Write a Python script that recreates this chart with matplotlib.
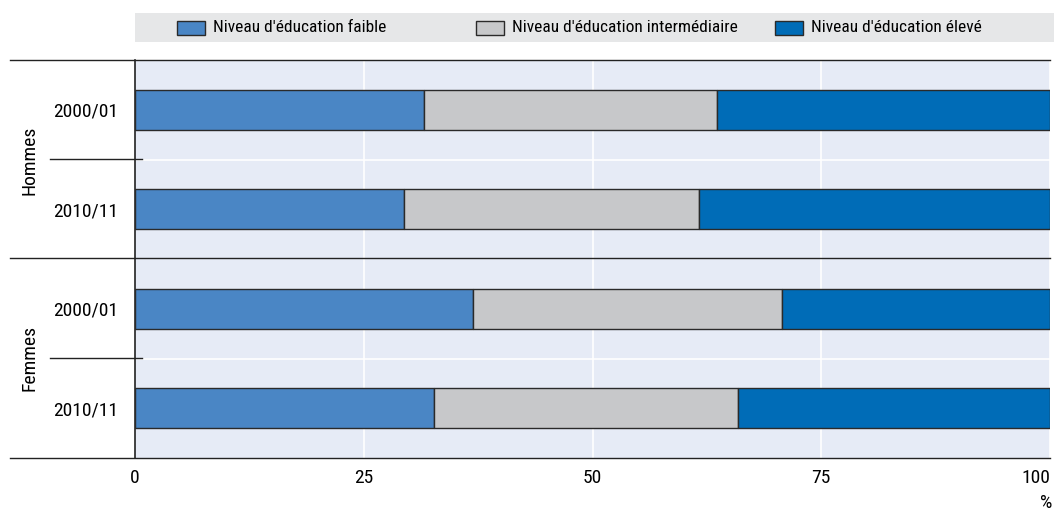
import matplotlib
matplotlib.use("Agg")
import matplotlib.pyplot as plt
from matplotlib.patches import Rectangle
from matplotlib.lines import Line2D
import numpy as np

plt.rcParams['font.family'] = ['Roboto Condensed', 'DejaVu Sans']

groups = ["Hommes", "Femmes"]
periods = ["2000/01", "2010/11", "2000/01", "2010/11"]
series_names = ["Niveau d'éducation faible", "Niveau d'éducation intermédiaire", "Niveau d'éducation élevé"]
low = [31.6, 29.4, 36.9, 32.7]
mid = [32.0, 32.2, 33.8, 33.2]
high = [36.4, 38.4, 29.3, 34.1]
xticks = [0, 25, 50, 75, 100]
colors = ["#4A86C5", "#C7C8CA", "#006CB7"]

FS = 14
LFS = 12.5
W, H = 1054, 511
fig = plt.figure(figsize=(W / 100, H / 100), dpi=100)
ax = fig.add_axes([135 / W, 1 - 458 / H, (1050 - 135) / W, (458 - 60) / H])
ax.set_facecolor("#E6EBF6")

y = np.arange(len(periods))
left = np.zeros(len(periods))
for vals, c in zip([low, mid, high], colors):
    ax.barh(y, vals, left=left, height=0.4, color=c, edgecolor="#2a2a2a", linewidth=1.0, zorder=3)
    left = left + np.array(vals)

ax.set_xlim(0, 100)
ax.set_ylim(3.5, -0.5)
ax.set_xticks(xticks)
ax.set_xticklabels([str(t) for t in xticks], fontsize=FS)
lbls = ax.get_xticklabels()
lbls[-1].set_horizontalalignment("right")
ax.tick_params(axis="x", length=0, pad=8)
ax.set_yticks(y)
ax.set_yticklabels(periods, fontsize=FS)
ax.tick_params(axis="y", length=0, pad=12)

for t in xticks[1:]:
    ax.axvline(t, color="white", linewidth=1.2, zorder=1)
for yy in [0.5, 2.5]:
    ax.axhline(yy, color="white", linewidth=1.2, zorder=1)

for s in ["top", "right", "bottom"]:
    ax.spines[s].set_visible(False)
ax.spines["left"].set_color("#222222")
ax.spines["left"].set_linewidth(1.2)


def fx(px):
    return px / W


def fy(py):
    return 1 - py / H


for py in [60, 258, 458]:
    fig.add_artist(Line2D([fx(10), fx(1050)], [fy(py), fy(py)], color="#222222", linewidth=1.0))
for py in [159, 358]:
    fig.add_artist(Line2D([fx(50), fx(142)], [fy(py), fy(py)], color="#222222", linewidth=1.0))

for g, py in zip(groups, [160, 358]):
    fig.text(fx(30), fy(py), g, rotation=90, ha="center", va="center", fontsize=FS)

fig.text(fx(1046), fy(503), "%", ha="center", va="center", fontsize=FS)

fig.add_artist(Rectangle((fx(135), fy(42)), fx(1054) - fx(135), fy(13) - fy(42),
                         facecolor="#E6E7E8", edgecolor="none", transform=fig.transFigure))
for name, c, px in zip(series_names, colors, [177, 476, 775]):
    fig.add_artist(Rectangle((fx(px), fy(35)), fx(28), 14 / H,
                             facecolor=c, edgecolor="#2a2a2a", linewidth=1.0, transform=fig.transFigure))
    fig.text(fx(px + 36), fy(27.5), name, ha="left", va="center", fontsize=LFS)

fig.savefig("out.png", dpi=100)
